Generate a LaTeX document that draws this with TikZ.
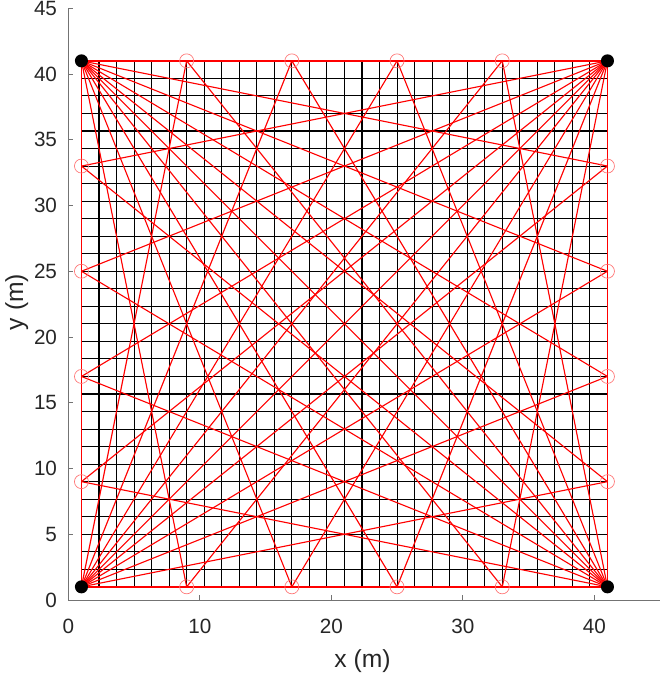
\documentclass[tikz,border=0pt]{standalone}
\usepackage{fontspec}
\setmainfont{Liberation Sans}
\definecolor{axcol}{RGB}{38,38,38}
\begin{document}
\begin{tikzpicture}[x=9.8625pt,y=9.8625pt,
  gridline/.style={black, line width=0.8pt},
  link/.style={red, line width=0.85pt},
  edge/.style={red, line width=1.2pt},
  axisline/.style={black!55, line width=0.6pt},
  ticklab/.style={text=axcol, font=\fontsize{15.5pt}{17pt}\selectfont, inner sep=0pt},
  axlab/.style={text=axcol, font=\fontsize{18.5pt}{20pt}\selectfont, inner sep=0pt},
  cornerdot/.style={circle, fill=black, minimum size=9.8pt, inner sep=0pt},
  sensor/.style={circle, draw=red!55, line width=0.5pt, minimum size=10.5pt, inner sep=0pt}]
\useasboundingbox (-5.194,-5.551) rectangle (45.148,45.627);
% axes
\draw[axisline] (0,45) -- (0,0) -- (45,0);
\foreach \x in {0,10,20,30,40} {
  \draw[axisline] (\x,0) -- (\x,0.38);
  \node[ticklab, anchor=base] at (\x,-2.53) {\x};
}
\foreach \y in {0,5,...,45} {
  \draw[axisline] (0,\y) -- (0.38,\y);
  \node[ticklab, anchor=east] at (-0.84,\y) {\y};
}
\node[axlab, anchor=base] (xlab) at (22.37,-5.17) {x (m)};
\node[axlab, rotate=90, anchor=base] (ylab) at (-3.44,22.66) {y (m)};
% grid (30 x 30 cells)
\foreach \i in {0,...,30} {
  \pgfmathsetmacro{\p}{1+\i*4/3}
  \draw[gridline] (\p,1) -- (\p,41);
  \draw[gridline] (1,\p) -- (41,\p);
}
% points
\coordinate (BL) at (1,1);
\coordinate (BR) at (41,1);
\coordinate (TL) at (1,41);
\coordinate (TR) at (41,41);
\foreach \v in {9,17,25,33} {
  \coordinate (b\v) at (\v,1);
  \coordinate (t\v) at (\v,41);
  \coordinate (l\v) at (1,\v);
  \coordinate (r\v) at (41,\v);
}
% links
\foreach \v in {9,17,25,33} {
  \draw[link] (BL) -- (t\v);
  \draw[link] (BL) -- (r\v);
  \draw[link] (BR) -- (t\v);
  \draw[link] (BR) -- (l\v);
  \draw[link] (TL) -- (b\v);
  \draw[link] (TL) -- (r\v);
  \draw[link] (TR) -- (b\v);
  \draw[link] (TR) -- (l\v);
}
\draw[link] (BL) -- (TR);
\draw[link] (TL) -- (BR);
\draw[edge] (BL) -- (BR) -- (TR) -- (TL) -- cycle;
% markers
\foreach \v in {9,17,25,33} {
  \node[sensor] (sb\v) at (b\v) {};
  \node[sensor] (st\v) at (t\v) {};
  \node[sensor] (sl\v) at (l\v) {};
  \node[sensor] (sr\v) at (r\v) {};
}
\node[cornerdot] (dBL) at (BL) {};
\node[cornerdot] (dBR) at (BR) {};
\node[cornerdot] (dTL) at (TL) {};
\node[cornerdot] (dTR) at (TR) {};
\end{tikzpicture}
\end{document}
